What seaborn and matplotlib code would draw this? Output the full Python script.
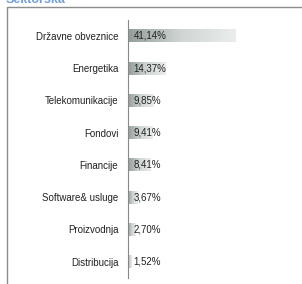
#!/usr/bin/env python3
import numpy as np
import pandas as pd
import matplotlib
matplotlib.use("Agg")
import matplotlib.pyplot as plt
import seaborn as sns
from matplotlib.colors import LinearSegmentedColormap
from matplotlib.lines import Line2D

# data
sectors = ["Državne obveznice", "Energetika", "Telekomunikacije", "Fondovi",
           "Financije", "Software& usluge", "Proizvodnja", "Distribucija"]
shares = [41.14, 14.37, 9.85, 9.41, 8.41, 3.67, 2.70, 1.52]
share_labels = ["41,14%", "14,37%", "9,85%", "9,41%", "8,41%", "3,67%", "2,70%", "1,52%"]
title_text = "Sektorska"

df = pd.DataFrame({"sector": sectors, "share": shares})

sns.set_style("white")
plt.rcParams['font.family'] = ['Liberation Sans', 'DejaVu Sans']

fig = plt.figure(figsize=(3.02, 2.84), dpi=100)
ax = fig.add_axes([0.424, 0.0225, 0.52, 0.9075])

sns.barplot(data=df, x="share", y="sector", orient="h", width=0.4,
            color="#c0c6c5", edgecolor="none", ax=ax)

# gradient fill, dark on the left, light on the right
grad = LinearSegmentedColormap.from_list("g", ["#939f9c", "#d0d6d4", "#eaedec"])
for p in ax.patches:
    x0, y0 = p.get_x(), p.get_y()
    w, h = p.get_width(), p.get_height()
    ax.imshow(np.linspace(0, 1, 64).reshape(1, -1), cmap=grad, aspect="auto",
              extent=(x0, x0 + w, y0 + h, y0), zorder=p.get_zorder() + 0.1,
              interpolation="bilinear")
    p.set_alpha(0)

for i, lab in enumerate(share_labels):
    ax.annotate(lab, (0, i), xytext=(4, 0), textcoords="offset points",
                ha="left", va="center", fontsize=7, color="#222222", zorder=5)

ax.set_xlim(0, 60)
ax.set_ylim(len(sectors) - 0.5, -0.5)
ax.set_xlabel("")
ax.set_ylabel("")
ax.set_xticks([])
ax.tick_params(axis="y", length=0, pad=7, labelsize=7, labelcolor="#222222")
ax.set_yticks(np.arange(-0.5, len(sectors), 1.0), minor=True)
ax.tick_params(axis="y", which="minor", length=3, color="#888888", width=0.8)
for s in ["top", "right", "bottom"]:
    ax.spines[s].set_visible(False)
ax.spines["left"].set_color("#888888")
ax.spines["left"].set_linewidth(0.8)

# outer frame (top and left edges of the chart box)
fig.add_artist(Line2D([7 / 302, 7 / 302, 1.0], [0.0, 1 - 6.5 / 284, 1 - 6.5 / 284],
                      transform=fig.transFigure, color="#8c8c8c", lw=1.0))
# the chart title sits mostly above the visible area, as in the original crop
fig.text(0.02, 1 - 3 / 284, title_text, fontsize=9, fontweight="bold",
         color="#6f9fdc", ha="left", va="baseline")

fig.savefig("out.png", dpi=100)
